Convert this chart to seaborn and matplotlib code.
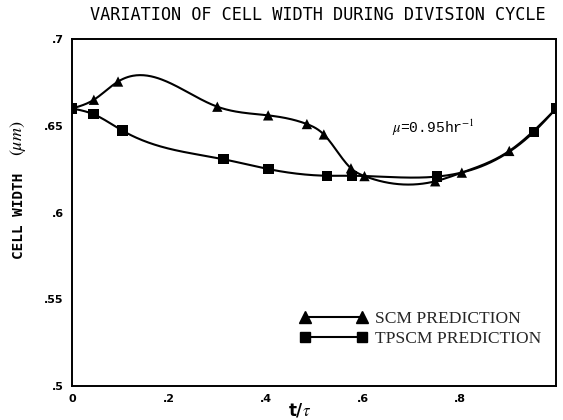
import numpy as np
import pandas as pd
import matplotlib
matplotlib.use("Agg")
import matplotlib.pyplot as plt
import seaborn as sns
from matplotlib.lines import Line2D

# ---- data ----
scm_x = [0.0, 0.045, 0.095, 0.30, 0.405, 0.485, 0.52, 0.576, 0.604, 0.75, 0.805, 0.903, 1.0]
scm_y = [0.660, 0.665, 0.6755, 0.661, 0.656, 0.651, 0.645, 0.6255, 0.621, 0.618, 0.623, 0.6355, 0.660]

tpscm_x = [0.0, 0.044, 0.104, 0.313, 0.406, 0.526, 0.578, 0.753, 0.954, 1.0]
tpscm_y = [0.660, 0.6567, 0.6472, 0.6307, 0.625, 0.6212, 0.6212, 0.6207, 0.6465, 0.660]

series_names = ["SCM PREDICTION", "TPSCM PREDICTION"]
x_ticks = [0, 0.2, 0.4, 0.6, 0.8]
x_tick_labels = ["0", ".2", ".4", ".6", ".8"]
y_ticks = [0.5, 0.55, 0.6, 0.65, 0.7]
y_tick_labels = [".5", ".55", ".6", ".65", ".7"]


def natural_spline(x, y, n=400):
    """Smooth curve through the given points (natural cubic spline)."""
    x = np.asarray(x, float)
    y = np.asarray(y, float)
    m = len(x)
    h = np.diff(x)
    A = np.zeros((m, m))
    b = np.zeros(m)
    A[0, 0] = 1.0
    A[-1, -1] = 1.0
    for i in range(1, m - 1):
        A[i, i - 1] = h[i - 1]
        A[i, i] = 2 * (h[i - 1] + h[i])
        A[i, i + 1] = h[i]
        b[i] = 6 * ((y[i + 1] - y[i]) / h[i] - (y[i] - y[i - 1]) / h[i - 1])
    M = np.linalg.solve(A, b)
    xs = np.linspace(x[0], x[-1], n)
    idx = np.clip(np.searchsorted(x, xs) - 1, 0, m - 2)
    x0, x1 = x[idx], x[idx + 1]
    hh = x1 - x0
    t0 = x1 - xs
    t1 = xs - x0
    ys = (M[idx] * t0 ** 3 / (6 * hh) + M[idx + 1] * t1 ** 3 / (6 * hh)
          + (y[idx] / hh - M[idx] * hh / 6) * t0
          + (y[idx + 1] / hh - M[idx + 1] * hh / 6) * t1)
    return xs, ys


sns.set_theme(style="white")
plt.rcParams["mathtext.fontset"] = "stix"

fig = plt.figure(figsize=(5.63, 4.2), dpi=100)
ax = fig.add_axes([0.128, 0.081, 0.860, 0.826])

points = pd.DataFrame({
    "x": scm_x + tpscm_x,
    "y": scm_y + tpscm_y,
    "series": [series_names[0]] * len(scm_x) + [series_names[1]] * len(tpscm_x),
})

curves = []
for name, xs_, ys_ in [(series_names[0], scm_x, scm_y), (series_names[1], tpscm_x, tpscm_y)]:
    cx, cy = natural_spline(xs_, ys_)
    curves.append(pd.DataFrame({"x": cx, "y": cy, "series": name}))
curves = pd.concat(curves, ignore_index=True)

palette = {series_names[0]: "black", series_names[1]: "black"}
sns.lineplot(data=curves, x="x", y="y", hue="series", palette=palette,
             linewidth=1.5, legend=False, ax=ax, sort=False, estimator=None)
sns.scatterplot(data=points, x="x", y="y", hue="series", style="series",
                markers={series_names[0]: "^", series_names[1]: "s"},
                palette=palette, s=55, edgecolor="black", linewidth=0,
                legend=False, ax=ax, zorder=3)

handles = [
    Line2D([], [], color="black", lw=1.5, marker="^", markersize=8),
    Line2D([], [], color="black", lw=1.5, marker="s", markersize=7),
]
leg = ax.legend(handles, series_names, loc="center left",
                bbox_to_anchor=(0.455, 0.165), frameon=False, numpoints=2,
                handlelength=3.9, handletextpad=0.4, labelspacing=0.22,
                borderaxespad=0.0,
                prop={"family": "Liberation Serif", "size": 12.6})

ax.set_xlim(0, 1.0)
ax.set_ylim(0.5, 0.7)
ax.set_xticks(x_ticks)
ax.set_xticklabels(x_tick_labels)
ax.set_yticks(y_ticks)
ax.set_yticklabels(y_tick_labels)
ax.tick_params(axis="both", direction="out", length=4, width=1.2,
               colors="black", labelsize=8, pad=2)
for lab in ax.get_xticklabels() + ax.get_yticklabels():
    lab.set_fontweight("bold")
for sp in ax.spines.values():
    sp.set_visible(True)
    sp.set_color("black")
    sp.set_linewidth(1.4)

ax.set_xlabel(r"t/$\tau$", fontsize=12, fontweight="bold", color="black")
ax.xaxis.set_label_coords(0.47, -0.045)
ax.set_ylabel("")

# y-axis title: monospace words plus italic unit
fig.text(0.034, 0.486, "CELL WIDTH", rotation=90, family="DejaVu Sans Mono",
         fontsize=10.4, fontweight="bold", ha="center", va="center", color="black")
fig.text(0.032, 0.671, r"$(\mu m)$", rotation=90, fontsize=13,
         ha="center", va="center", color="black")

ax.text(0.661, 0.649, r"$\mu$=0.95hr$^{-1}$", family="Liberation Mono",
        fontsize=10.5, va="center", ha="left", color="black")

fig.text(0.565, 0.965, "VARIATION OF CELL WIDTH DURING DIVISION CYCLE",
         family="DejaVu Sans Mono", fontsize=12.2, ha="center", va="center",
         color="black")

fig.savefig("out.png", dpi=100, facecolor="white")
